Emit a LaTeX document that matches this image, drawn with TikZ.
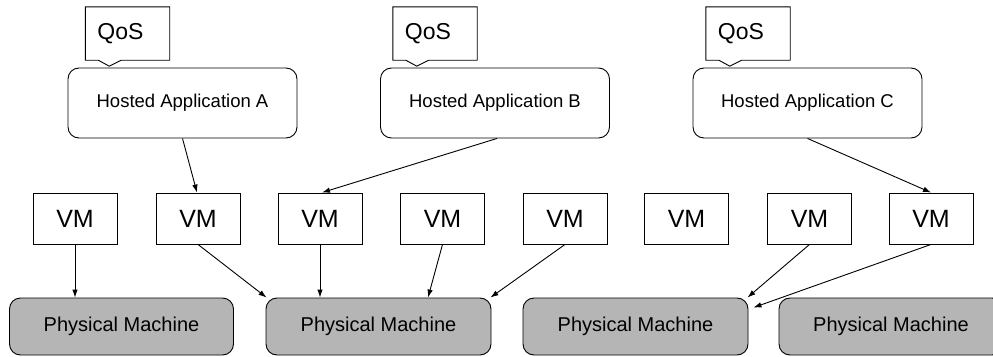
\documentclass[tikz,border=0pt]{standalone}
\usepackage{fontspec}
\setmainfont{Liberation Sans}
\usetikzlibrary{arrows.meta}
\definecolor{pmgray}{RGB}{181,181,181}
\tikzset{
  box/.style={draw, line width=0.9pt, inner sep=0pt},
  app/.style={box, rounded corners=11pt, minimum width=229pt, minimum height=70pt, font=\fontsize{18.5}{20}\selectfont},
  vm/.style={box, minimum width=84pt, minimum height=51pt, font=\fontsize{25}{28}\selectfont},
  pm/.style={box, fill=pmgray, rounded corners=11pt, minimum width=224pt, minimum height=57pt, font=\fontsize{20}{22}\selectfont},
  qostext/.style={inner sep=0pt, minimum width=84pt, minimum height=53pt, font=\fontsize{23}{26}\selectfont},
  arr/.style={line width=0.9pt, -{Latex[length=8pt,width=5.5pt]}},
}
\begin{document}
\begin{tikzpicture}[x=1pt,y=-1pt]
\useasboundingbox (0,0) rectangle (993,356);
\clip (0,0) rectangle (993,356);
% applications
\node[app] (appA) at (182.5,103) {Hosted Application A};
\node[app] (appB) at (495,103) {Hosted Application B};
\node[app] (appC) at (807.5,103) {Hosted Application C};
% QoS callouts
\node[qostext] (qA) at (127.5,33.5) {\hspace*{-14pt}QoS};
\node[qostext] (qB) at (435,33.5) {\hspace*{-14pt}QoS};
\node[qostext] (qC) at (748,33.5) {\hspace*{-14pt}QoS};
\foreach \q in {qA,qB,qC}{
  \draw[line width=0.9pt, line join=miter] (\q.north west) -- (\q.north east) -- (\q.south east)
    -- ([xshift=36pt]\q.south west) -- ([xshift=24pt,yshift=-6pt]\q.south west)
    -- ([xshift=13pt]\q.south west) -- (\q.south west) -- cycle;
}
% VMs
\node[vm] (vm1) at (75,218.5) {VM};
\node[vm] (vm2) at (198,218.5) {VM};
\node[vm] (vm3) at (320,218.5) {VM};
\node[vm] (vm4) at (442.5,218.5) {VM};
\node[vm] (vm5) at (565,218.5) {VM};
\node[vm] (vm6) at (686.5,218.5) {VM};
\node[vm] (vm7) at (809.5,218.5) {VM};
\node[vm] (vm8) at (931,218.5) {VM};
% physical machines
\node[pm] (pm1) at (121.5,326.5) {Physical Machine};
\node[pm, minimum width=225pt] (pm2) at (378.5,326.5) {Physical Machine};
\node[pm, minimum width=225pt] (pm3) at (635.5,326.5) {Physical Machine};
\node[pm] (pm4) at (891,326.5) {Physical Machine};
% app -> vm
\draw[arr] (appA.south) -- ([xshift=-1pt]vm2.north);
\draw[arr] ([xshift=2pt]appB.south) -- ([xshift=2pt]vm3.north);
\draw[arr] (appC.south) -- (vm8.north);
% vm -> pm
\draw[arr] (vm1.south) -- (vm1.south |- pm1.north);
\draw[arr] (vm2.south) -- ([xshift=1pt]pm2.north west);
\draw[arr] (vm3.south) -- (vm3.south |- pm2.north);
\draw[arr] (vm4.south) -- ([xshift=49.5pt]pm2.north);
\draw[arr] (vm5.south) -- ([xshift=-1pt]pm2.north east);
\draw[arr] (vm7.south) -- ([xshift=-1pt]pm3.north east);
\draw[arr] (vm8.south) -- ([xshift=5pt,yshift=-10pt]pm3.north east);
\end{tikzpicture}
\end{document}
